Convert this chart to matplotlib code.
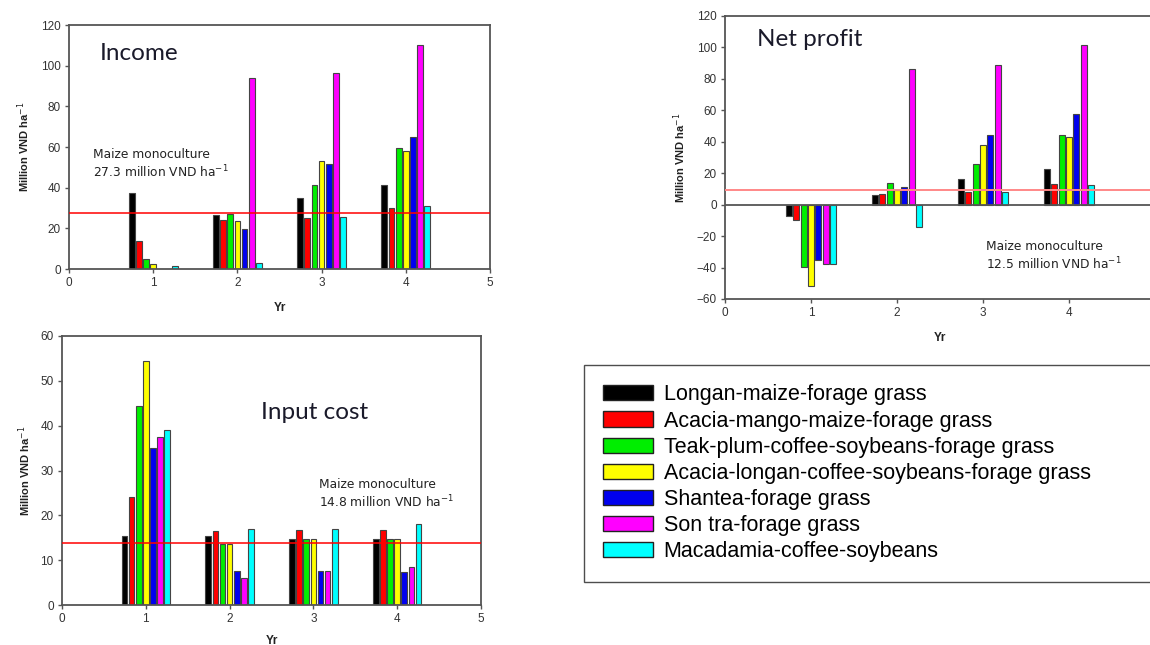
import matplotlib
matplotlib.use("Agg")
import matplotlib.pyplot as plt
from matplotlib.patches import Patch
import numpy as np

years = [1, 2, 3, 4]
systems = ["Longan-maize-forage grass",
           "Acacia-mango-maize-forage grass",
           "Teak-plum-coffee-soybeans-forage grass",
           "Acacia-longan-coffee-soybeans-forage grass",
           "Shantea-forage grass",
           "Son tra-forage grass",
           "Macadamia-coffee-soybeans"]
colors = ["#000000", "#ff0000", "#00ee00", "#ffff00", "#0000ee", "#ff00ff", "#00ffff"]

# values per system, per year (1..4)
income = [
    [37.5, 26.5, 35.0, 41.5],
    [14.0, 24.0, 25.0, 30.0],
    [5.0, 27.0, 41.5, 59.5],
    [2.5, 23.5, 53.0, 58.0],
    [0.0, 19.5, 51.5, 65.0],
    [0.0, 94.0, 96.5, 110.0],
    [1.5, 3.0, 25.5, 31.0],
]
net_profit = [
    [-7.0, 6.0, 16.5, 23.0],
    [-10.0, 7.0, 8.0, 13.0],
    [-39.5, 13.5, 26.0, 44.5],
    [-52.0, 9.5, 38.0, 43.0],
    [-35.0, 11.5, 44.0, 57.5],
    [-37.5, 86.5, 89.0, 101.5],
    [-37.5, -14.0, 8.0, 12.5],
]
input_cost = [
    [15.3, 15.3, 14.8, 14.8],
    [24.0, 16.5, 16.7, 16.7],
    [44.3, 13.7, 14.8, 14.8],
    [54.5, 13.7, 14.8, 14.8],
    [35.0, 7.5, 7.5, 7.4],
    [37.5, 6.0, 7.5, 8.4],
    [39.0, 17.0, 17.0, 18.0],
]
maize_income_line = 27.3
maize_profit_line = 9.5
maize_cost_line = 13.9
maize_income_txt = "27.3"
maize_profit_txt = "12.5"
maize_cost_txt = "14.8"

W, H = 1150, 645
fig = plt.figure(figsize=(W / 100, H / 100), dpi=100)

def pos(l, t, r, b):
    return [l / W, 1 - b / H, (r - l) / W, (b - t) / H]

def style_axes(ax, ylim, yticks, xticks, xpad, ypad):
    ax.set_xlim(0, 5)
    ax.set_ylim(*ylim)
    ax.set_xticks(xticks)
    ax.set_yticks(yticks)
    for s in ax.spines.values():
        s.set_color("#555555")
        s.set_linewidth(1.3)
    ax.tick_params(direction="out", length=3, width=1, color="#555555", pad=3)
    for lab in ax.get_xticklabels() + ax.get_yticklabels():
        lab.set_fontfamily("Liberation Sans")
        lab.set_fontsize(8.5)
        lab.set_color("#333333")
    ax.set_xlabel("Yr", fontfamily="Liberation Sans", fontsize=8.5, fontweight="bold",
                  color="#222222", labelpad=xpad)
    ax.set_ylabel("Million VND ha$^{-1}$", fontfamily="Liberation Sans", fontsize=8,
                  fontweight="bold", color="#222222", labelpad=ypad)

def draw_bars(ax, data):
    x = np.array(years, dtype=float)
    for i, vals in enumerate(data):
        ax.bar(x + (i - 3) * 0.085, vals, width=0.068, color=colors[i],
               edgecolor="#444444", linewidth=0.8, zorder=2)

title_kw = dict(fontfamily="Lato", fontsize=17.5, color="#1a1a2a", va="center")
note_kw = dict(fontfamily="DejaVu Sans", fontsize=8.8, color="#222222", va="top",
               linespacing=1.2)

# Income
ax1 = fig.add_axes(pos(69, 25, 490, 269))
draw_bars(ax1, income)
ax1.axhline(maize_income_line, color="red", lw=1.1, zorder=3)
style_axes(ax1, (0, 120), [0, 20, 40, 60, 80, 100, 120], [0, 1, 2, 3, 4, 5], 9, 6)
ax1.text(0.36, 106, "Income", **title_kw)
ax1.text(0.28, 59.5, "Maize monoculture\n" + maize_income_txt + " million VND ha$^{-1}$",
         **note_kw)

# Net profit
ax2 = fig.add_axes(pos(725, 16, 1155, 299))
draw_bars(ax2, net_profit)
ax2.axhline(0, color="#555555", lw=1.3, zorder=3)
ax2.axhline(maize_profit_line, color="#ff8888", lw=1.4, zorder=3)
style_axes(ax2, (-60, 120), [-60, -40, -20, 0, 20, 40, 60, 80, 100, 120],
           [0, 1, 2, 3, 4], 9, 6)
ax2.text(0.37, 105, "Net profit", **title_kw)
ax2.text(3.03, -22.5, "Maize monoculture\n" + maize_profit_txt + " million VND ha$^{-1}$",
         **note_kw)

# Input cost
ax3 = fig.add_axes(pos(62, 336, 481, 605))
draw_bars(ax3, input_cost)
ax3.axhline(maize_cost_line, color="red", lw=1.1, zorder=3)
style_axes(ax3, (0, 60), [0, 10, 20, 30, 40, 50, 60], [0, 1, 2, 3, 4, 5], 7, 5)
ax3.text(2.38, 43.0, "Input cost", **title_kw)
ax3.text(3.07, 28.3, "Maize monoculture\n" + maize_cost_txt + " million VND ha$^{-1}$",
         **note_kw)

# Legend
handles = [Patch(facecolor=c, edgecolor="#222222", linewidth=1) for c in colors]
x0 = 584 / W
y_top = 1 - 365 / H
y_bot = 1 - 576 / H
leg = fig.legend(handles, systems, loc="upper left",
                 bbox_to_anchor=(x0, y_bot, 1.2 - x0, y_top - y_bot), mode="expand",
                 prop=dict(family="Liberation Sans", size=15.5),
                 frameon=True, fancybox=False, handlelength=2.3, handleheight=0.7,
                 labelspacing=0.24, borderpad=0.9, handletextpad=0.5, borderaxespad=0)
leg.get_frame().set_edgecolor("#222222")
leg.get_frame().set_linewidth(1.0)

fig.savefig("out.png", dpi=100)
